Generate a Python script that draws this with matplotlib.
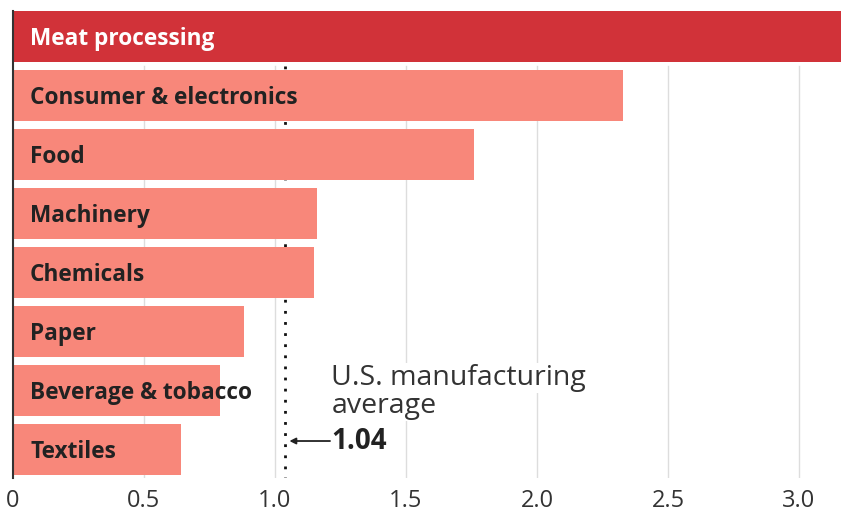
import matplotlib.pyplot as plt

plt.rcParams['font.family'] = ['Open Sans', 'DejaVu Sans']

industries = ['Meat processing', 'Consumer & electronics', 'Food', 'Machinery',
              'Chemicals', 'Paper', 'Beverage & tobacco', 'Textiles']
values = [3.3, 2.33, 1.76, 1.16, 1.15, 0.88, 0.79, 0.64]
avg = 1.04
ticks = [0, 0.5, 1.0, 1.5, 2.0, 2.5, 3.0]
tick_labels = ['0', '0.5', '1.0', '1.5', '2.0', '2.5', '3.0']

fig = plt.figure(figsize=(8.41, 5.13), dpi=100)
ax = fig.add_axes([13 / 841, 35 / 513, 828 / 841, 467 / 513])

colors = ['#D13239'] + ['#F8877A'] * (len(values) - 1)
ypos = range(len(values))
ax.barh(ypos, values, height=0.865, color=colors, zorder=2)

for i, name in enumerate(industries):
    ax.text(0.065, i + 0.05, name, va='center', ha='left', fontsize=16.3, fontweight='bold',
            color='white' if i == 0 else '#222222', zorder=4)

# gridlines and the average line sit behind the bars
for t in ticks[1:]:
    ax.plot([t, t], [0.5, 7.5], color='#dddddd', lw=1, zorder=1)

ax.plot([avg, avg], [0.5, 7.5], color='#111111', lw=2, ls=(0, (1, 3)), zorder=1.5)

ax.text(avg + 0.175, 5.907, 'U.S. manufacturing', fontsize=20.5,
        color='#333333', va='baseline', ha='left', zorder=5,
        bbox=dict(fc='white', ec='none', pad=1))
ax.text(avg + 0.175, 6.381, 'average', fontsize=20.5,
        color='#333333', va='baseline', ha='left', zorder=5,
        bbox=dict(fc='white', ec='none', pad=1))
ax.text(avg + 0.175, 6.87, f'{avg:.2f}', fontsize=20, fontweight='bold',
        color='#222222', va='center', ha='left', zorder=5,
        bbox=dict(fc='white', ec='none', pad=1))
ax.annotate('', xy=(avg + 0.015, 6.856), xytext=(avg + 0.17, 6.856),
            arrowprops=dict(arrowstyle='-|>', color='#222222', lw=1.3,
                            mutation_scale=9, shrinkA=0, shrinkB=0), zorder=5)

ax.set_xlim(0, 828 / 262)
ax.set_ylim(7.483, -0.4325)
ax.set_xticks(ticks)
ax.set_xticklabels(tick_labels)
ax.set_yticks([])
ax.tick_params(axis='x', length=0, pad=8, labelsize=17, labelcolor='#333333')

for side in ['top', 'right', 'bottom']:
    ax.spines[side].set_visible(False)
ax.spines['left'].set_color('#333333')
ax.spines['left'].set_linewidth(1.5)
ax.spines['left'].set_zorder(6)

fig.savefig('out.png', dpi=100)
